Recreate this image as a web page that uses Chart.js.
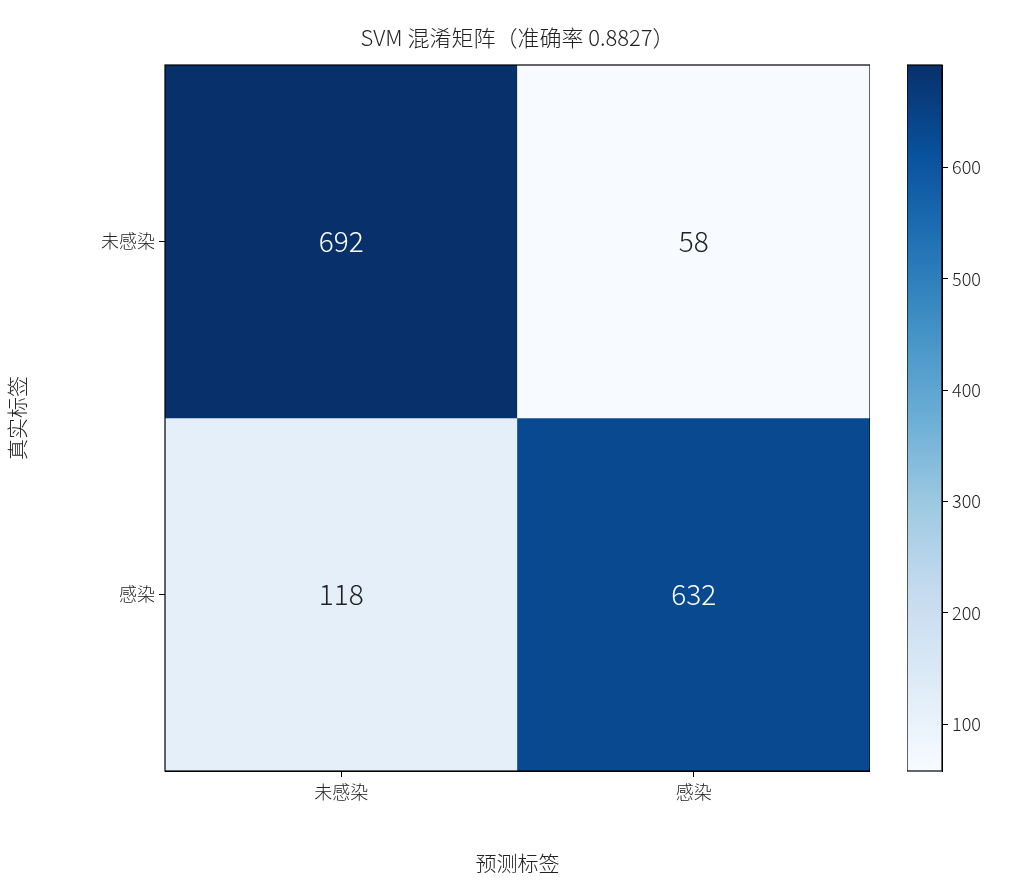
<!DOCTYPE html>
<html><head><meta charset="utf-8">
<script src="https://cdn.jsdelivr.net/npm/chart.js@4/dist/chart.umd.min.js"></script>
<style>body{margin:0;background:#fff;}canvas{position:absolute;top:0;}</style>
</head><body>
<div style="position:absolute;left:0;top:0;width:870px;height:880px"><canvas id="c1"></canvas></div>
<div style="position:absolute;left:907px;top:0;width:116px;height:880px"><canvas id="c2"></canvas></div>
<script>
const predLabels=['未感染','感染'];
const trueLabels=['未感染','感染'];
const row0=[692,58];
const row1=[118,632];
const cbTicks=[100,200,300,400,500,600];
const FONT='"Noto Sans CJK SC","Noto Sans",sans-serif';
const vmin=Math.min(...row0,...row1), vmax=Math.max(...row0,...row1);
const stops=['#f7fbff','#deebf7','#c6dbef','#9ecae1','#6baed6','#4292c6','#2171b5','#08519c','#08306b'];
function hex(h){return [1,3,5].map(i=>parseInt(h.substr(i,2),16));}
function blues(v){let t=(v-vmin)/(vmax-vmin)*8;let i=Math.min(7,Math.floor(t));let f=t-i;let a=hex(stops[i]),b=hex(stops[i+1]);return 'rgb('+a.map((x,k)=>Math.round(x+(b[k]-x)*f)).join(',')+')';}
const border={id:'bd',afterDraw(c){const a=c.chartArea,x=c.ctx;x.save();x.strokeStyle='#000';x.lineWidth=1.2;x.strokeRect(a.left,a.top,a.right-a.left,a.bottom-a.top);x.restore();}};
const labelsP={id:'lb',afterDatasetsDraw(c){const x=c.ctx;x.save();x.font='300 28px '+FONT;x.textAlign='center';x.textBaseline='middle';
[row0,row1].forEach((r,di)=>{c.getDatasetMeta(di).data.forEach((el,i)=>{const v=r[i];x.fillStyle=(v-vmin)/(vmax-vmin)>0.5?'#fff':'#222';x.fillText(String(v),el.x,(el.y+el.base)/2);});});
x.font='300 22px '+FONT;x.fillStyle='#222';x.fillText('SVM 混淆矩阵（准确率 0.8827）',(c.chartArea.left+c.chartArea.right)/2,38);x.restore();}};
new Chart(document.getElementById('c1'),{type:'bar',
data:{labels:predLabels,datasets:[
{data:row0.map(()=>[0,1]),backgroundColor:row0.map(blues),barPercentage:1,categoryPercentage:1,grouped:false},
{data:row1.map(()=>[1,2]),backgroundColor:row1.map(blues),barPercentage:1,categoryPercentage:1,grouped:false}]},
options:{responsive:true,maintainAspectRatio:false,animation:false,layout:{padding:{top:65,right:0}},
plugins:{legend:{display:false},tooltip:{enabled:false}},
scales:{
x:{afterFit(s){s.height=109;},grid:{display:true,drawOnChartArea:false,tickLength:6,color:'#000',offset:false},border:{color:'#000'},
ticks:{color:'#222',font:{family:FONT,size:18,weight:300},padding:4},
title:{display:true,text:'预测标签',color:'#222',font:{family:FONT,size:21,weight:300},padding:{top:2}}},
y:{type:'linear',min:0,max:2,reverse:true,afterFit(s){s.width=165;},
afterBuildTicks(s){s.ticks=[{value:0.5},{value:1.5}];},
grid:{drawOnChartArea:false,tickLength:6,color:'#000'},border:{color:'#000'},
ticks:{color:'#222',font:{family:FONT,size:18,weight:300},padding:4,callback:(v)=>trueLabels[Math.floor(v)]},
title:{display:true,text:'真实标签',color:'#222',font:{family:FONT,size:21,weight:300},padding:{bottom:2}}}}},
plugins:[border,labelsP]});
new Chart(document.getElementById('c2'),{type:'bar',
data:{labels:['cb'],datasets:[{data:[[vmin,vmax]],barPercentage:1,categoryPercentage:1,
backgroundColor(ctx){const a=ctx.chart.chartArea;if(!a)return stops[4];const g=ctx.chart.ctx.createLinearGradient(0,a.bottom,0,a.top);stops.forEach((s,i)=>g.addColorStop(i/8,s));return g;}}]},
options:{responsive:true,maintainAspectRatio:false,animation:false,layout:{padding:{top:65,bottom:109}},
plugins:{legend:{display:false},tooltip:{enabled:false}},
scales:{x:{display:false},
y:{position:'right',min:vmin,max:vmax,afterFit(s){s.width=81;},afterBuildTicks(s){s.ticks=cbTicks.map(v=>({value:v}));},
grid:{drawOnChartArea:false,tickLength:6,color:'#000'},border:{color:'#000'},
ticks:{color:'#222',font:{family:FONT,size:18,weight:300},padding:4}}}},
plugins:[border]});
</script></body></html>
